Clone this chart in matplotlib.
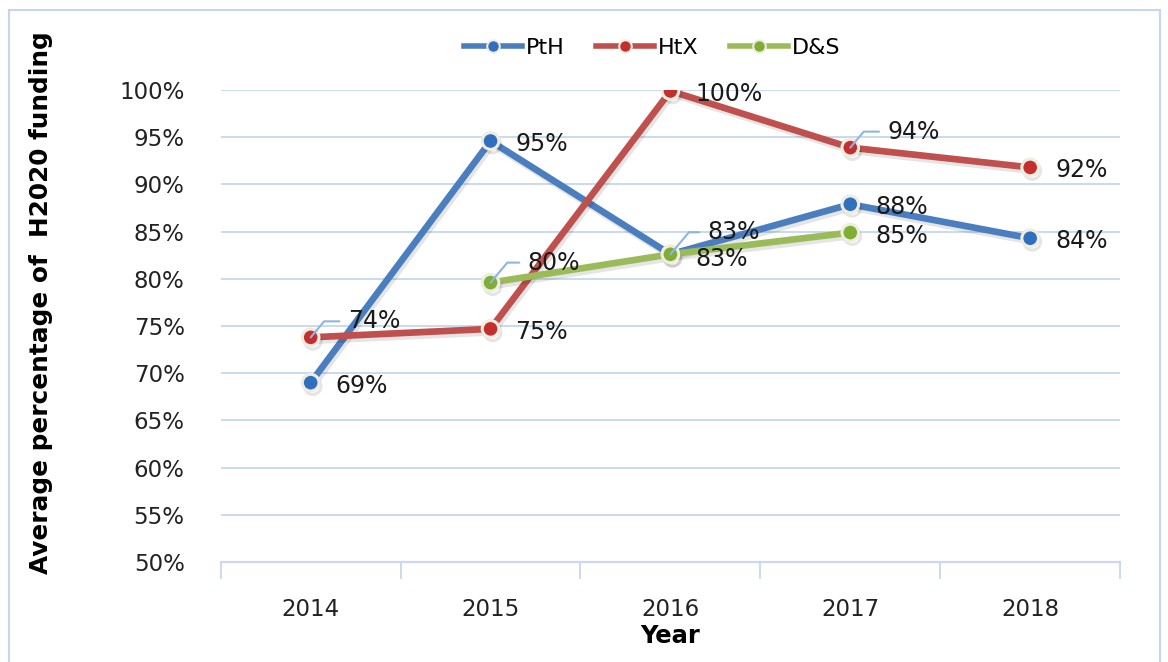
import numpy as np
import matplotlib
matplotlib.use("Agg")
import matplotlib.pyplot as plt
import matplotlib.patheffects as pe
from matplotlib.patches import Rectangle
from matplotlib.lines import Line2D
from matplotlib.ticker import FixedLocator, FuncFormatter

# data
years = ["2014", "2015", "2016", "2017", "2018"]
pth = [69.0, 94.6, 82.6, 87.9, 84.3]
htx = [73.8, 74.7, 99.9, 93.9, 91.8]
ds = [np.nan, 79.6, 82.6, 84.9, np.nan]
pth_labels = ["69%", "95%", "83%", "88%", "84%"]
htx_labels = ["74%", "75%", "100%", "94%", "92%"]
ds_labels = [None, "80%", "83%", "85%", None]

plt.rcParams["font.family"] = ["DejaVu Sans"]

fig = plt.figure(figsize=(11.68, 6.62), dpi=100)
ax = fig.add_axes([0.189, 0.151, 0.770, 0.713])

# outer chart border
fig.patches.append(Rectangle((0.008, -0.02), 0.985, 1.005, transform=fig.transFigure,
                             fill=False, edgecolor="#c6d6eb", lw=1.5))

x = np.arange(len(years))
series = [
    ("PtH", pth, "#4a7ebf", "#2f6fbd", pth_labels),
    ("HtX", htx, "#c0504d", "#c42e2e", htx_labels),
    ("D&S", ds, "#9bbb59", "#7fae34", ds_labels),
]
shadow = [pe.SimpleLineShadow(offset=(1.5, -2.5), alpha=0.1, shadow_color="black"), pe.Normal()]
handles = []
for name, vals, col, mcol, _ in series:
    ax.plot(x, vals, color=col, lw=4.8, marker="o", ms=12, mfc=mcol,
            mec="#efece0", mew=2.2, zorder=3, path_effects=shadow)
    handles.append(Line2D([], [], color=col, lw=4, marker="o", ms=9, mfc=mcol,
                          mec="#efece0", mew=1.5, label=name))

# data labels: plain ones sit right of the point, leader ones above-right
leader = {("HtX", 0): 16, ("HtX", 3): 16, ("D&S", 1): 20, ("D&S", 2): 22}
for name, vals, col, mcol, labs in series:
    for i, (v, lab) in enumerate(zip(vals, labs)):
        if lab is None:
            continue
        if (name, i) in leader:
            ax.annotate(lab, xy=(x[i], v), xytext=(37, leader[(name, i)]), textcoords="offset pixels",
                        fontsize=17, color="#1a1a1a", va="center", ha="left", zorder=5,
                        arrowprops=dict(arrowstyle="-", color="#8fb4e3", lw=1.5,
                                        relpos=(0, 0.5), shrinkA=4, shrinkB=0,
                                        connectionstyle="angle,angleA=0,angleB=50,rad=0"))
        else:
            ax.annotate(lab, xy=(x[i], v), xytext=(25, -3 if (name, i) != ("PtH", 2) else -5),
                        textcoords="offset pixels",
                        fontsize=17, color="#1a1a1a", va="center", ha="left", zorder=5)

ax.set_xlim(-0.5, len(years) - 0.5)
ax.set_ylim(50, 100)
ax.set_yticks(np.arange(50, 101, 5))
ax.yaxis.set_major_formatter(FuncFormatter(lambda v, p: f"{v:.0f}%"))
ax.grid(axis="y", color="#c9daf0", lw=1.4, zorder=0)
ax.set_axisbelow(True)

ax.set_xticks(x)
ax.set_xticklabels(years)
ax.xaxis.set_minor_locator(FixedLocator(np.arange(-0.5, len(years), 1.0)))
ax.tick_params(axis="x", which="major", length=0, pad=26, labelsize=16.5, labelcolor="#222222")
ax.tick_params(axis="x", which="minor", length=12, width=1.4, color="#c9daf0", direction="out")
ax.tick_params(axis="y", length=0, pad=26, labelsize=16.5, labelcolor="#222222")

for s in ["top", "right", "left"]:
    ax.spines[s].set_visible(False)
ax.spines["bottom"].set_color("#c9daf0")
ax.spines["bottom"].set_linewidth(1.6)

ax.set_xlabel("Year", fontsize=17.5, fontweight="bold", labelpad=2)
ax.set_ylabel("Average percentage of  H2020 funding", fontsize=17.8, fontweight="bold")
ax.yaxis.set_label_coords(-0.187, 0.55)

ax.legend(handles=handles, loc="center", bbox_to_anchor=(0.48, 1.09), ncol=3, frameon=False,
          fontsize=16, handlelength=2.6, columnspacing=1.4, handletextpad=0.2)

fig.savefig("out.png", dpi=100)
